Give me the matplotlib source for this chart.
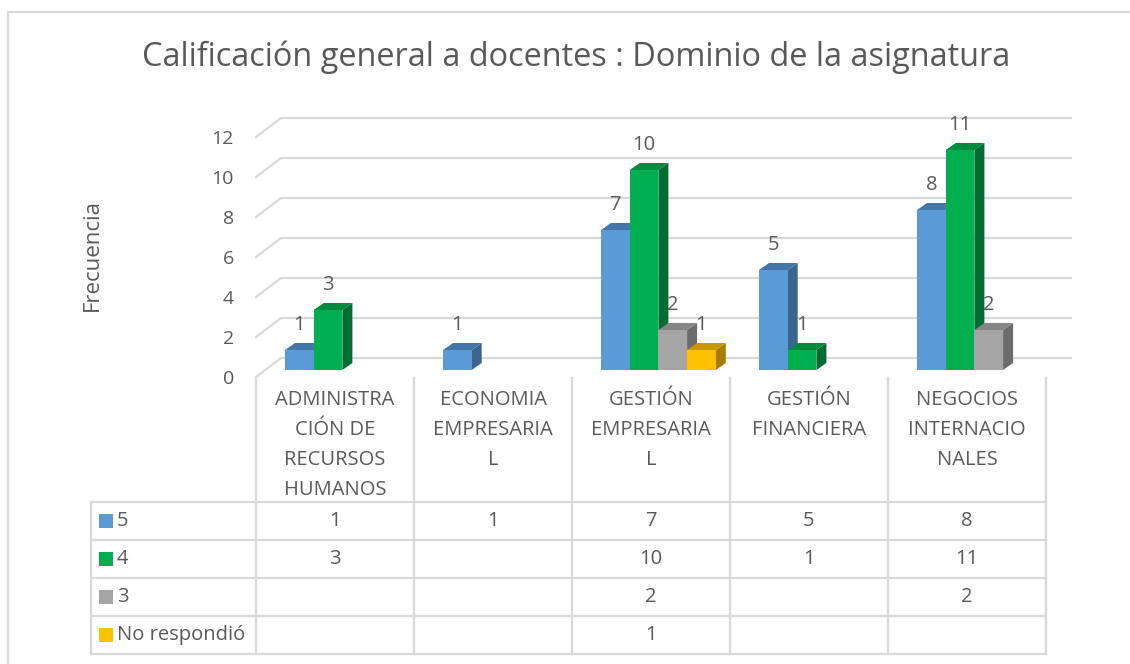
import matplotlib
matplotlib.use("Agg")
import matplotlib.pyplot as plt
from matplotlib.patches import Polygon, Rectangle

plt.rcParams["font.family"] = ["Open Sans", "DejaVu Sans"]

TITLE = "Calificación general a docentes : Dominio de la asignatura"
Y_LABEL = "Frecuencia"
CATEGORIES = [
    "ADMINISTRACIÓN DE RECURSOS HUMANOS",
    "ECONOMIA EMPRESARIAL",
    "GESTIÓN EMPRESARIAL",
    "GESTIÓN FINANCIERA",
    "NEGOCIOS INTERNACIONALES",
]
SERIES = ["5", "4", "3", "No respondió"]
S5 = [1, 1, 7, 5, 8]
S4 = [3, None, 10, 1, 11]
S3 = [None, None, 2, None, 2]
S_NR = [None, None, 1, None, None]
Y_TICKS = [0, 2, 4, 6, 8, 10, 12]

FRONT = ["#5B9BD5", "#00B050", "#A5A5A5", "#FFC000"]
TOP = ["#4477A8", "#008C3F", "#858585", "#C99700"]
SIDE = ["#3B6591", "#006E32", "#6B6B6B", "#A67C00"]
TEXT = "#595959"
GRID = "#D9D9D9"
FS = 14.5


def wrap_cell(name, width=10):
    # excel style: words go to a new line, too-long words are cut
    lines, cur = [], ""
    for word in name.split():
        cand = word if not cur else cur + " " + word
        if len(cand) <= width:
            cur = cand
            continue
        if cur:
            lines.append(cur)
        while len(word) > width:
            lines.append(word[:width])
            word = word[width:]
        cur = word
    if cur:
        lines.append(cur)
    return lines


W, H = 1130, 664
fig = plt.figure(figsize=(W / 100, H / 100), dpi=100)

# plot area (front plane) in pixels
X0, X1 = 256, 1046
YB, YT = 377, 137
ax = fig.add_axes([X0 / W, 1 - YB / H, (X1 - X0) / W, (YB - YT) / H])
ax.set_xlim(0, 5)
ax.set_ylim(0, 12)
for s in ax.spines.values():
    s.set_visible(False)
ax.set_xticks([])
ax.set_yticks(Y_TICKS)
ax.tick_params(axis="y", length=0, pad=16, labelsize=14, labelcolor=TEXT)
ax.patch.set_alpha(0)

px = 5 / (X1 - X0)      # data units per pixel, x
py = 12 / (YB - YT)     # data units per pixel, y

# back wall gridlines
wall_dx, wall_dy = 25 * px, 19 * py
for v in Y_TICKS:
    ax.plot([0, wall_dx, 5 + wall_dx], [v, v + wall_dy, v + wall_dy],
            color=GRID, lw=1.6, clip_on=False, zorder=1)

# bars
bar_w = 28.7 * px
grp_off = 29 * px
base = 7 * py
ddx, ddy = 10 * px, 7 * py
for i in range(len(CATEGORIES)):
    for j, vals in enumerate([S5, S4, S3, S_NR]):
        v = vals[i]
        if v is None:
            continue
        x0 = i + grp_off + j * bar_w
        x1 = x0 + bar_w
        b, t = base, base + v
        z = 3 + i * 10 + j
        ax.add_patch(Rectangle((x0, b), bar_w, v, facecolor=FRONT[j], edgecolor="none",
                               clip_on=False, zorder=z + 0.2))
        ax.add_patch(Polygon([(x1, b), (x1 + ddx, b + ddy), (x1 + ddx, t + ddy), (x1, t)],
                             facecolor=SIDE[j], edgecolor="none", clip_on=False, zorder=z))
        ax.add_patch(Polygon([(x0, t), (x0 + ddx, t + ddy), (x1 + ddx, t + ddy), (x1, t)],
                             facecolor=TOP[j], edgecolor="none", clip_on=False, zorder=z + 0.1))
        ax.annotate(str(v), (x0 + bar_w / 2, t), xytext=(0, 18), textcoords="offset points",
                    ha="center", va="center", fontsize=FS, color=TEXT, zorder=100,
                    annotation_clip=False)

# data table below
TL = 91
TY0, TY1 = 378, 655
tab = fig.add_axes([TL / W, 1 - TY1 / H, (X1 - TL) / W, (TY1 - TY0) / H])
tab.set_xlim(-(X0 - TL) / (X1 - X0) * 5, 5)
tab.set_ylim(TY1, TY0)
tab.axis("off")
row_lines = [502, 540, 578, 616, 654]
for k in range(len(CATEGORIES) + 1):
    tab.plot([k, k], [TY0, row_lines[-1]], color=GRID, lw=1.6, clip_on=False)
xl = tab.get_xlim()[0]
tab.plot([xl, xl], [row_lines[0], row_lines[-1]], color=GRID, lw=1.6, clip_on=False)
for yl in row_lines:
    tab.plot([xl, 5], [yl, yl], color=GRID, lw=1.6, clip_on=False)

for i, name in enumerate(CATEGORIES):
    for n, line in enumerate(wrap_cell(name)):
        tab.text(i + 0.5, 400 + 30 * n, line, ha="center", va="center",
                 fontsize=FS, color=TEXT)

for r, (label, vals) in enumerate(zip(SERIES, [S5, S4, S3, S_NR])):
    yc = (row_lines[r] + row_lines[r + 1]) / 2
    tab.add_patch(Rectangle((xl + 8 * px, yc - 7), 14 * px, 14, facecolor=FRONT[r],
                            edgecolor="none", clip_on=False))
    tab.text(xl + 26 * px, yc, label, ha="left", va="center", fontsize=FS, color=TEXT)
    for i, v in enumerate(vals):
        if v is not None:
            tab.text(i + 0.5, yc, str(v), ha="center", va="center", fontsize=FS, color=TEXT)

fig.text(576 / W, 1 - 57 / H, TITLE, ha="center", va="center", fontsize=23.4, color=TEXT)
fig.text(92 / W, 1 - 255 / H, Y_LABEL, ha="center", va="center", rotation=90,
         fontsize=16, color=TEXT)

fig.patches.append(Rectangle((8 / W, -0.1), 1.2, 1.1 - 12 / H, transform=fig.transFigure,
                             fill=False, edgecolor=GRID, lw=1.6))

fig.savefig("out.png", dpi=100)
